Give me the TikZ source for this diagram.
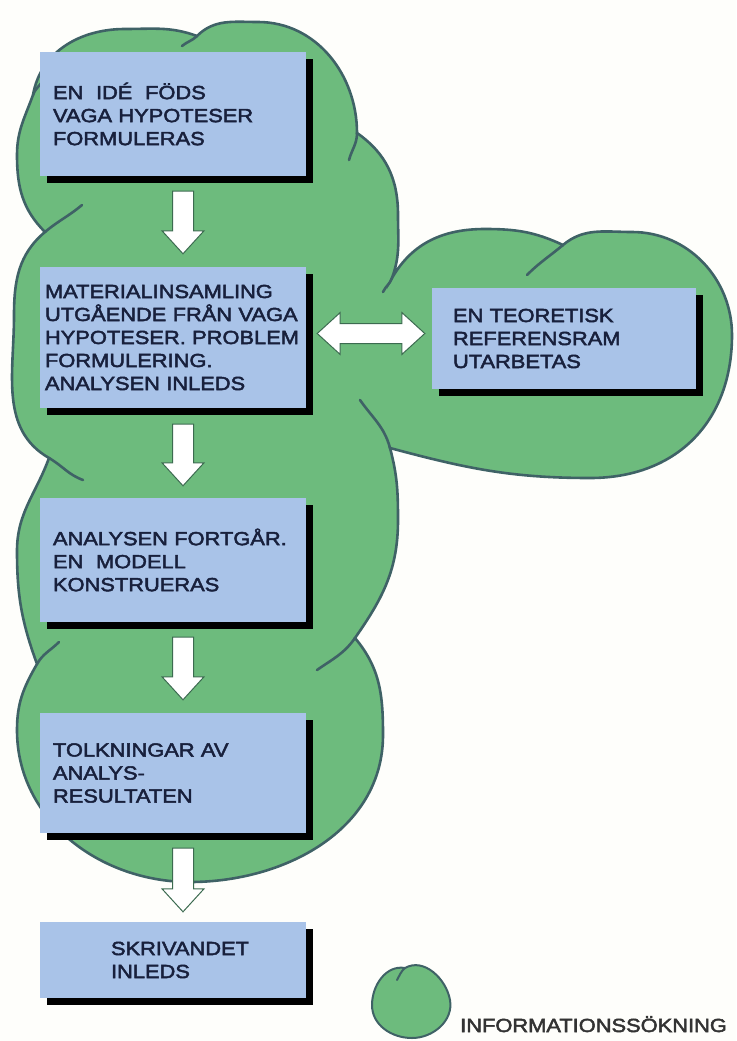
\documentclass[tikz,border=0pt]{standalone}
\usepackage{fontspec}
\newfontfamily\boxfont[FakeStretch=1.15,FakeBold=2.5]{Liberation Sans}
\usetikzlibrary{calc,shadows}
\hyphenpenalty=10000

\definecolor{cloudgreen}{HTML}{6DBB7D}
\definecolor{cloudline}{HTML}{3F6266}
\definecolor{boxblue}{HTML}{A9C3E8}
\definecolor{boxtext}{HTML}{18203C}
\definecolor{arrowline}{HTML}{3C6B50}
\definecolor{paper}{HTML}{FEFEFB}

\tikzset{
  cloud/.style={fill=cloudgreen, draw=cloudline, line width=2.6pt},
  tail/.style={draw=cloudline, line width=2.6pt, line cap=round},
  stepbox/.style={fill=boxblue, minimum width=266pt, text width=240pt, align=left,
    inner sep=0pt, text=boxtext, font=\boxfont\fontsize{19}{23}\selectfont,
    drop shadow={shadow xshift=7pt, shadow yshift=-7pt, opacity=1, fill=black}},
  fat arrow/.style={fill=white, draw=arrowline, line width=1pt, line join=miter,
    to path={
      ($(\tikztostart)!10.5pt!90:(\tikztotarget)$)
      -- ($(\tikztotarget)!23pt!(\tikztostart)!10.5pt!-90:(\tikztostart)$)
      -- ($(\tikztotarget)!23pt!(\tikztostart)!21pt!-90:(\tikztostart)$)
      -- (\tikztotarget)
      -- ($(\tikztotarget)!23pt!(\tikztostart)!21pt!90:(\tikztostart)$)
      -- ($(\tikztotarget)!23pt!(\tikztostart)!10.5pt!90:(\tikztostart)$)
      -- ($(\tikztostart)!10.5pt!-90:(\tikztotarget)$)
      -- cycle}},
  fat double arrow/.style={fill=white, draw=arrowline, line width=1pt, line join=miter,
    to path={
      (\tikztostart)
      -- ($(\tikztostart)!23pt!(\tikztotarget)!21pt!90:(\tikztotarget)$)
      -- ($(\tikztostart)!23pt!(\tikztotarget)!10pt!90:(\tikztotarget)$)
      -- ($(\tikztotarget)!23pt!(\tikztostart)!10pt!-90:(\tikztostart)$)
      -- ($(\tikztotarget)!23pt!(\tikztostart)!21pt!-90:(\tikztostart)$)
      -- (\tikztotarget)
      -- ($(\tikztotarget)!23pt!(\tikztostart)!21pt!90:(\tikztostart)$)
      -- ($(\tikztotarget)!23pt!(\tikztostart)!10pt!90:(\tikztostart)$)
      -- ($(\tikztostart)!23pt!(\tikztotarget)!10pt!-90:(\tikztotarget)$)
      -- ($(\tikztostart)!23pt!(\tikztotarget)!21pt!-90:(\tikztotarget)$)
      -- cycle}}
}

\begin{document}
\begin{tikzpicture}[x=1pt,y=1pt]
      \useasboundingbox (0,0) rectangle (736,-1041);
      \fill[paper] (0,0) rectangle (736,-1041);

      % CLOUD (informationssokning)
      \draw[cloud] (33,-95)
        to[out=80,in=180] (125,-29) to[out=0,in=160] (197,-36)      % top left
        to[out=45,in=180] (258,-22) to[out=0,in=90] (357,-133)      % top right
        to[out=-35,in=90] (398,-215) to[out=-90,in=70] (392,-278)
        to[out=60,in=180] (485,-229) to[out=0,in=155] (563,-245)    % side cloud
        to[out=40,in=180] (632,-232) to[out=0,in=90] (732,-335)
        to[out=-90,in=0,looseness=1.1] (590,-478) to[out=180,in=-15] (390,-448)
        to[out=-75,in=90] (398,-520) to[out=-90,in=55] (355,-638)
        to[out=-50,in=90] (383,-735) to[out=-90,in=0] (190,-882)    % bottom
        to[out=180,in=-90] (17,-730) to[out=90,in=-120] (37,-664)
        to[out=110,in=-90] (17,-551) to[out=90,in=-110] (49,-458)   % left side
        to[out=150,in=-90] (14,-316) to[out=90,in=-140] (45,-232)
        to[out=135,in=-90] (17,-155) to[out=90,in=-110] (33,-95)
        -- cycle;
      % inner ends of the arcs
      \draw[tail] (197,-36) to[out=-135,in=40] (182,-46);
      \draw[tail] (357,-133) to[out=-90,in=75] (349,-160);
      \draw[tail] (392,-278) to[out=-110,in=65] (383,-292);
      \draw[tail] (563,-245) to[out=-140,in=45] (527,-275);
      \draw[tail] (390,-448) to[out=105,in=-55] (360,-400);
      \draw[tail] (355,-638) to[out=-125,in=35] (317,-670);
      \draw[tail] (37,-664) to[out=60,in=-135] (59,-642);
      \draw[tail] (49,-458) to[out=-30,in=160] (83,-480);
      \draw[tail] (45,-232) to[out=40,in=-140] (82,-205);
      \draw[tail] (33,-95) to[out=70,in=-120] (45,-78);

      % BOXES
      \node[stepbox, minimum height=124pt] (ide) at (173,-114)
        {EN\ \ IDÉ\ \ FÖDS\\VAGA HYPOTESER\\FORMULERAS};
      \node[stepbox, minimum height=141pt, text width=256pt] (material) at (173,-337.5)
        {MATERIALINSAMLING\\UTGÅENDE FRÅN VAGA\\HYPOTESER.\ PROBLEM\\FORMULERING.\\ANALYSEN INLEDS};
      \node[stepbox, minimum height=124pt] (analys) at (173,-560)
        {ANALYSEN FORTGÅR.\\EN\ \ MODELL\\KONSTRUERAS};
      \node[stepbox, minimum height=120pt] (tolkning) at (173,-773)
        {TOLKNINGAR AV\\ANALYS-\\RESULTATEN};
      \node[stepbox, minimum height=76pt, text width=124pt] (skriv) at (173,-960)
        {SKRIVANDET\\INLEDS};
      \node[stepbox, minimum height=101pt, minimum width=264pt, text width=222pt] (teori) at (564,-338.5)
        {EN TEORETISK\\REFERENSRAM\\UTARBETAS};

      % ARROWS
      \coordinate (a1s) at ([xshift=10pt,yshift=-15pt]ide.south);
      \coordinate (a1e) at ([xshift=10pt,yshift=13pt]material.north);
      \coordinate (a2s) at ([xshift=10pt,yshift=-16pt]material.south);
      \coordinate (a2e) at ([xshift=10pt,yshift=12pt]analys.north);
      \coordinate (a3s) at ([xshift=10pt,yshift=-15pt]analys.south);
      \coordinate (a3e) at ([xshift=10pt,yshift=13pt]tolkning.north);
      \coordinate (a4s) at ([xshift=10pt,yshift=-15pt]tolkning.south);
      \coordinate (a4e) at ([xshift=10pt,yshift=10pt]skriv.north);
      \coordinate (d1) at ([xshift=11pt,yshift=4pt]material.east);
      \coordinate (d2) at ([xshift=-7pt,yshift=5pt]teori.west);
      \draw[fat arrow] (a1s) to (a1e);
      \draw[fat arrow] (a2s) to (a2e);
      \draw[fat arrow] (a3s) to (a3e);
      \draw[fat arrow] (a4s) to (a4e);
      \draw[fat double arrow] (d1) to (d2);

      % LEGEND
      \draw[cloud, line width=2pt] (405,-968)
        to[out=30,in=100] (450,-1000) to[out=-80,in=0] (412,-1038)
        to[out=180,in=-90] (372,-1005) to[out=90,in=170] (405,-968) -- cycle;
      \draw[tail, line width=2pt] (405,-968) to[out=-140,in=60] (397,-980);
      \node[anchor=base west, inner sep=0pt, text=black!80,
        font=\boxfont\fontsize{19}{23}\selectfont] (legend) at (460,-1032) {INFORMATIONSSÖKNING};
\end{tikzpicture}
\end{document}
